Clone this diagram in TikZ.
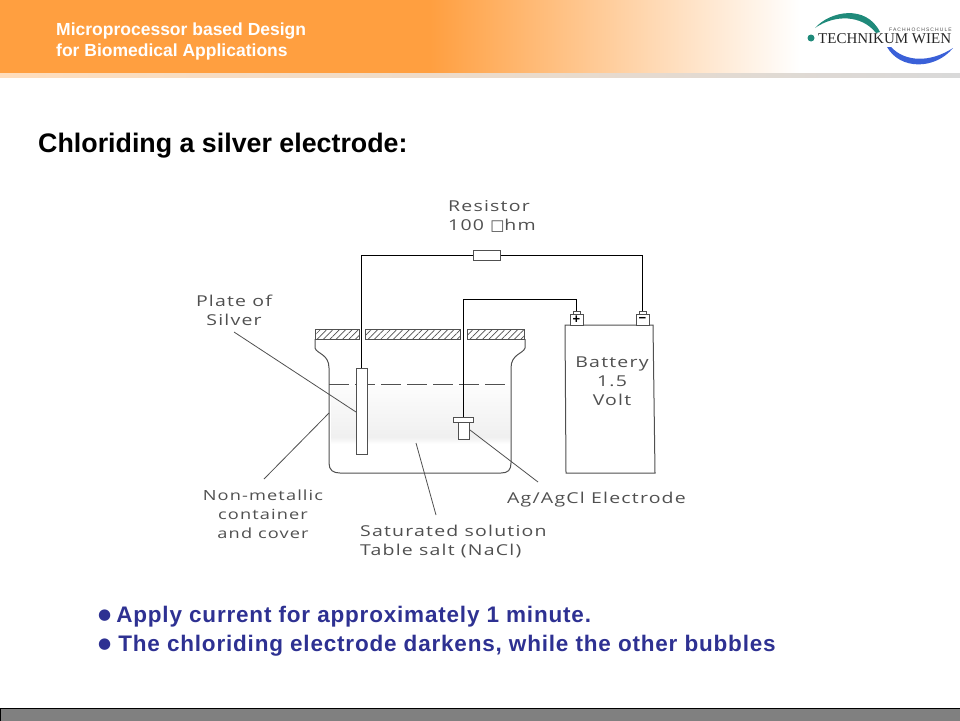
\documentclass[tikz,border=0pt]{standalone}
\usepackage{fontspec}
\setmainfont{Liberation Sans}
\newfontfamily\sketchfont[LetterSpace=8,FakeStretch=1.3]{Open Sans}
\newfontfamily\logofont{Liberation Serif}
\newfontfamily\smalllogofont[LetterSpace=22]{Liberation Sans}
\newfontfamily\bulletfont[LetterSpace=3.6]{Liberation Sans}
\newfontfamily\symfont{DejaVu Sans}
\usetikzlibrary{patterns.meta}
\definecolor{bandorange}{HTML}{FF9F40}
\definecolor{bulletblue}{HTML}{2E3192}
\definecolor{sketchgrey}{HTML}{505050}
\definecolor{logoteal}{HTML}{1F8A7A}
\definecolor{logoblue}{HTML}{3A60D8}
\newcommand{\dotmark}{\raisebox{2.5pt}{\symfont\fontsize{15}{15}\selectfont ●}}
\tikzset{lead/.style = {draw=sketchgrey, line width=0.8pt},
    wire/.style = {draw=black, line width=1.6pt},
    part/.style = {draw=sketchgrey, line width=1pt, fill=white, inner sep=0pt},
    hatch/.style = {draw=sketchgrey, line width=0.8pt, pattern={Lines[angle=45,distance=4.5pt,line width=0.7pt]}, pattern color=sketchgrey},
    sketch/.style = {font=\sketchfont\fontsize{15}{19}\selectfont, text=sketchgrey, align=center, inner sep=0pt},
    bullet/.style = {font=\bulletfont\bfseries\fontsize{22.5}{26}\selectfont, text=bulletblue, anchor=base west, inner sep=0pt},
    course/.style = {anchor=base west, inner sep=0pt, text=white, font=\bfseries\fontsize{17.5}{21}\selectfont}}

\begin{document}
\begin{tikzpicture}[x=1pt, y=-1pt]
    \useasboundingbox (0,0) rectangle (960,720);
    % header
    \fill[bandorange] (0,0) rectangle (430,73);
    \shade[left color=bandorange, right color=white] (430,0) rectangle (800,73);
    \shade[left color=bandorange!35!white, right color=black!15] (0,73) rectangle (960,77);
    \node[course] (course1) at (56,35) {Microprocessor based Design};
    \node[course] (course2) at (56,56) {for Biomedical Applications};
    % logo
    \fill[logoteal] (815,28) .. controls (830,11) and (866,4) .. (880,32) -- (876,33) .. controls (862,15) and (835,14) .. cycle;
    \fill[logoblue] (887,47) -- (891,47) .. controls (905,62) and (930,63) .. (953,48) .. controls (935,70) and (900,70) .. cycle;
    \fill[logoteal] (811,38) circle (3.5);
    \node[anchor=base west, inner sep=0pt, font=\logofont\fontsize{15}{15}\selectfont, text=black!85] (logoname) at (818,43) {TECHNIKUM WIEN};
    \node[anchor=base east, inner sep=0pt, font=\smalllogofont\fontsize{5}{5}\selectfont, text=black!70] (logotop) at (952,31) {FACHHOCHSCHULE};
    % title
    \node[anchor=base west, inner sep=0pt, font=\bfseries\fontsize{26.8}{30}\selectfont] (title) at (38,152) {Chloriding a silver electrode:};
    % solution
    \shade[top color=black!1, bottom color=black!6] (331,386) rectangle (510,437);
    \shade[top color=black!6, bottom color=white] (331,437) rectangle (510,444);
    \draw[draw=sketchgrey, line width=1pt, dash pattern=on 20pt off 6pt] (329,384) -- (511,384);
    % container and cover
    \draw[part, fill=none] (315,339) -- (315,348) .. controls (317,354) and (329,354) .. (329,368) -- (329,463)
        .. controls (329,470) and (333,473) .. (340,473) -- (501,473) .. controls (508,473) and (511,470) .. (511,463)
        -- (511,368) .. controls (511,354) and (523,354) .. (525,348) -- (525,339);
    \draw[hatch] (315,329) rectangle (359,339);
    \draw[hatch] (365,329) rectangle (460,339);
    \draw[hatch] (467,329) rectangle (524,339);
    % battery
    \draw[part] (565,325) -- (653,325) -- (655,473) -- (566,473) -- cycle;
    \node[part, minimum width=13pt, minimum height=11pt] (plus) at (576.5,319.5) {\fontsize{13}{13}\selectfont\bfseries +};
    \node[part, minimum width=13pt, minimum height=11pt] (minus) at (642.5,319.5) {\fontsize{13}{13}\selectfont\bfseries −};
    \node[part, minimum width=7pt, minimum height=3pt] (plusnub) at (576.5,312.5) {};
    \node[part, minimum width=7pt, minimum height=3pt] (minusnub) at (642.5,312.5) {};
    \node[sketch] (battery) at (612,381) {Battery\\1.5\\Volt};
    % electrodes and wires
    \node[part, minimum width=11pt, minimum height=86pt] (plate) at (361.5,411) {};
    \node[part, minimum width=27pt, minimum height=10pt] (resistor) at (486.5,255.5) {};
    \node[part, minimum width=20pt, minimum height=5pt] (flange) at (463.5,419.5) {};
    \node[part, minimum width=11pt, minimum height=17pt] (cell) at (463.5,430.5) {};
    \draw[wire] (plate.north) -- (361.5,255.5) -- (resistor.west);
    \draw[wire] (resistor.east) -- (642.5,255.5) -- (minusnub.north);
    \draw[wire] (flange.north) -- (463.5,299.5) -- (576.5,299.5) -- (plusnub.north);
    % labels
    \node[sketch, anchor=base west, align=left] (resistorlabel) at (448,230) {Resistor\\100 {\symfont□}hm};
    \node[sketch] (platelabel) at (234,310.5) {Plate of\\Silver};
    \node[sketch, font=\sketchfont\fontsize{14}{19}\selectfont] (containerlabel) at (263,514) {Non-metallic\\container\\and cover};
    \node[sketch, anchor=base west, align=left] (saltlabel) at (360,555) {Saturated solution\\Table salt (NaCl)};
    \node[sketch, anchor=base west] (electrodelabel) at (507,503) {Ag/AgCl Electrode};
    \coordinate (platefree) at (234,332);
    \coordinate (containerfree) at (264,479);
    \coordinate (saltfree) at (436,515);
    \coordinate (electrodefree) at (538,482);
    \draw[lead] (platefree) -- (356,412);
    \draw[lead] (containerfree) -- (329,413);
    \draw[lead] (saltfree) -- (416,443);
    \draw[lead] (electrodefree) -- (470,430);
    % bullets
    \node[bullet] (bullet1) at (98,622) {\dotmark{} \hspace{-2pt}Apply current for approximately 1 minute.};
    \node[bullet] (bullet2) at (98,651) {\dotmark{} The chloriding electrode darkens, while the other bubbles};
    % footer
    \draw[draw=black, fill=black!50, line width=1pt] (0,708.5) rectangle (960,722);
\end{tikzpicture}
\end{document}
